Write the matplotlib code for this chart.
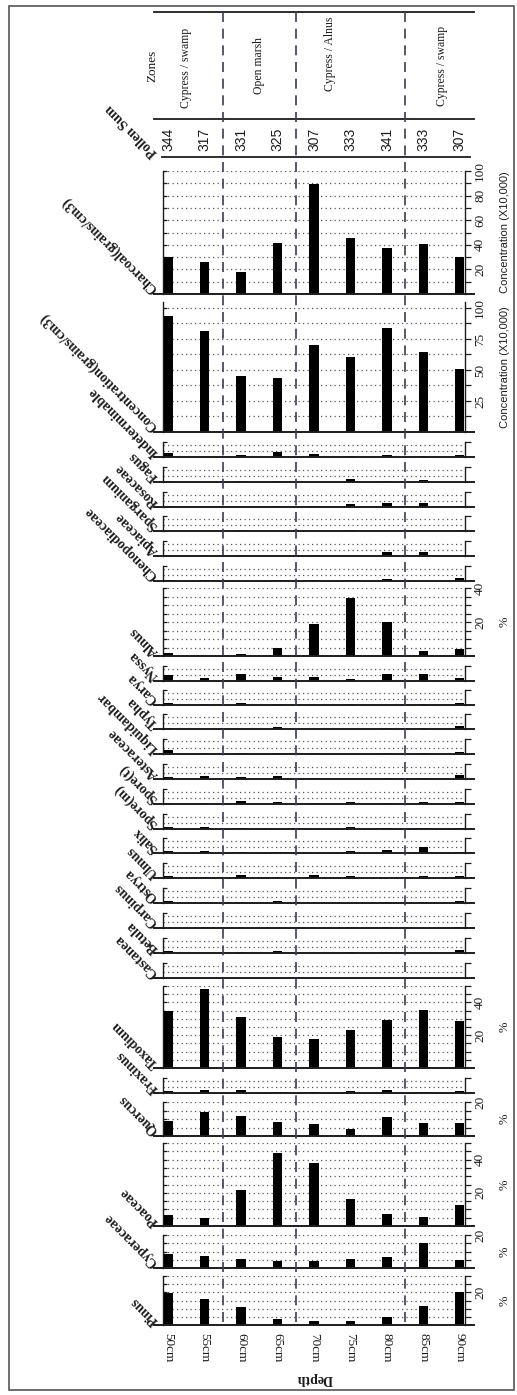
import matplotlib
matplotlib.use('Agg')
import matplotlib.pyplot as plt
from matplotlib.patches import Rectangle
from matplotlib.lines import Line2D
from matplotlib.transforms import blended_transform_factory

# ---------------- data ----------------
depths = [50, 55, 60, 65, 70, 75, 80, 85, 90]
depth_labels = ["50cm", "55cm", "60cm", "65cm", "70cm", "75cm", "80cm", "85cm", "90cm"]
pollen_sum = [344, 317, 331, 325, 307, 333, 341, 333, 307]
zones = ["Cypress / swamp", "Cypress / swamp", "Open marsh", "Open marsh",
         "Cypress / Alnus", "Cypress / Alnus", "Cypress / Alnus",
         "Cypress / swamp", "Cypress / swamp"]

charcoal = [30, 26, 18, 41.5, 89.5, 45.5, 37.5, 40.5, 30]
concentration = [93.5, 81.5, 45, 43.5, 70, 60.5, 84, 64.5, 51]
indeterminable = [3.2, 0, 1.9, 3.7, 2.7, 1.1, 1.9, 1.1, 1.9]
fagus = [1.0, 0, 0.8, 0.8, 0, 2.7, 0.8, 1.9, 0]
rosaceae = [0.9, 0, 0, 0.9, 0.9, 2.1, 2.9, 2.9, 0.9]
sparganium = [0, 0, 0.8, 0, 0, 0.8, 0, 0, 0.8]
apiaceae = [0.8, 0.8, 0.8, 0, 0.8, 0, 3.2, 3.2, 0]
chenopodiaceae = [0.8, 0.8, 0, 0.8, 0.8, 0.8, 1.9, 0, 2.7]
alnus = [1.6, 0, 1.0, 5.0, 19, 33.9, 19.8, 2.8, 4.2]
nyssa = [4.5, 2.1, 5.6, 2.9, 2.9, 1.9, 5.6, 5.6, 2.1]
carya = [1.6, 0.8, 1.6, 0.8, 0, 0.8, 0, 0.8, 1.6]
typha = [0.8, 0, 0, 1.6, 0, 0, 0.8, 0.8, 2.7]
liquidambar = [3.5, 0.8, 0.8, 0.8, 0.8, 0, 0.8, 0.8, 1.9]
asteraceae = [1.6, 2.4, 1.6, 2.4, 0.8, 0, 0.8, 0.8, 3.2]
spore_t = [0.8, 0.8, 2.4, 1.6, 0.8, 1.6, 0.8, 1.6, 1.6]
spore_m = [1.6, 1.6, 0.8, 0, 0, 1.6, 0.8, 0.8, 0.8]
salix = [1.6, 1.6, 0.8, 0.8, 0, 1.6, 2.4, 5.1, 0.8]
ulmus = [1.6, 0.8, 2.4, 0.8, 2.7, 1.6, 0, 1.6, 1.6]
ostrya = [1.6, 0.8, 0.8, 1.6, 0, 0, 0.8, 0.8, 1.6]
carpinus = [0, 0.8, 0, 0, 0, 0.8, 0.8, 0, 0.8]
betula = [1.6, 0, 0.8, 1.6, 0, 0.8, 0.8, 0, 2.7]
castanea = [0, 0, 0, 0, 0, 0, 0, 0, 0]
taxodium = [34.8, 48, 31, 19.2, 17.8, 22.9, 29.4, 35.4, 28.5]
fraxinus = [1.6, 2.4, 2.4, 0.8, 0.8, 1.6, 2.7, 0.8, 1.6]
quercus = [8.8, 13.9, 12, 8.2, 7.1, 3.9, 11.4, 7.6, 7.6]
poaceae = [6.4, 4.8, 21.4, 44.2, 38.2, 16.4, 7, 5.2, 12.6]
cyperaceae = [8.4, 7.1, 5.7, 4.1, 4.1, 5.7, 6.5, 14.9, 5.1]
pinus = [19.4, 15.9, 10.8, 3.9, 2.7, 2.7, 5.1, 11.6, 20.4]

# ---------------- layout / style ----------------
W, H = 517, 1395
fig = plt.figure(figsize=(W / 100, H / 100), dpi=100)
fig.patch.set_facecolor('white')


def fx(px):
    return px / W


def fy(py):
    return 1 - py / H


XL, XR = 163, 465
XLIM = (49.3, 90.7)
BAR_W = 1.25
INK = '#1c1c1c'
GRID = '#555555'
ZONE_C = '#3b3b58'
SERIF = ['Liberation Serif', 'DejaVu Serif']
SANS = ['Liberation Sans', 'DejaVu Sans']
NARROW = ['Liberation Sans Narrow', 'Liberation Sans', 'DejaVu Sans']


def steps(step, top):
    out, v = [], step
    while v <= top + 1e-9:
        out.append(v)
        v += step
    return out


big = lambda top, base, ymax, step, labs, unit: dict(top=top, base=base, ymax=ymax,
                                                     grid=steps(step, min(ymax, 100)),
                                                     ticks=steps(step, min(ymax, 100)),
                                                     labs=labs, unit=unit)
small = lambda base: dict(top=base - 15, base=base, ymax=12, grid=[5, 10], ticks=[12],
                          labs=[], unit=None)

panels = [
    ("Charcoal(grains/cm3)", charcoal, big(171, 294, 100, 10, [20, 40, 60, 80, 100], "Concentration (X10,000)")),
    ("Concentration(grains/cm3)", concentration, big(302, 432, 104.8, 12.5, [25, 50, 75, 100], "Concentration (X10,000)")),
    ("Indeterminable", indeterminable, small(457)),
    ("Fagus", fagus, small(482)),
    ("Rosaceae", rosaceae, small(507)),
    ("Sparganium", sparganium, small(531)),
    ("Apiaceae", apiaceae, small(556)),
    ("Chenopodiaceae", chenopodiaceae, small(581)),
    ("Alnus", alnus, big(588, 656, 40, 5, [20, 40], "%")),
    ("Nyssa", nyssa, small(681)),
    ("Carya", carya, small(705)),
    ("Typha", typha, small(729)),
    ("Liquidambar", liquidambar, small(754)),
    ("Asteraceae", asteraceae, small(779)),
    ("Spore(t)", spore_t, small(804)),
    ("Spore(m)", spore_m, small(829)),
    ("Salix", salix, small(853)),
    ("Ulmus", ulmus, small(878)),
    ("Ostrya", ostrya, small(903)),
    ("Carpinus", carpinus, small(928)),
    ("Betula", betula, small(953)),
    ("Castanea", castanea, small(978)),
    ("Taxodium", taxodium, big(986, 1068, 50, 5, [20, 40], "%")),
    ("Fraxinus", fraxinus, small(1093)),
    ("Quercus", quercus, big(1102, 1136, 20, 5, [20], "%")),
    ("Poaceae", poaceae, big(1143, 1226, 50, 5, [20, 40], "%")),
    ("Cyperaceae", cyperaceae, big(1235, 1268, 20, 5, [20], "%")),
    ("Pinus", pinus, big(1276, 1325, 30, 5, [20], "%")),
]

last_ax = None
for name, vals, p in panels:
    ax = fig.add_axes([fx(XL), fy(p['base']), fx(XR) - fx(XL), (p['base'] - p['top']) / H])
    ax.set_xlim(XLIM)
    ax.set_ylim(0, p['ymax'])
    ax.patch.set_alpha(0)
    ax.bar(depths, vals, width=BAR_W, color='black', zorder=3)
    for g in p['grid']:
        ax.axhline(g, color=GRID, lw=0.9, ls=(0, (1, 2.6)), zorder=1)
    ax.axhline(0, xmin=-0.03, xmax=1.03, color=INK, lw=1.4, clip_on=False, zorder=4)
    for s in ('top', 'bottom', 'right'):
        ax.spines[s].set_visible(False)
    ax.spines['left'].set_color(INK)
    ax.spines['left'].set_linewidth(1.0)
    ax.set_xticks([])
    ax.set_yticks(p['ticks'])
    ax.tick_params(axis='y', direction='in', length=3, width=0.9, color=INK,
                   labelleft=False, left=True, right=False)
    sec = ax.secondary_yaxis('right')
    sec.set_yticks(p['ticks'])
    sec.set_yticklabels([(f"{int(t)}" if t in p['labs'] else "") for t in p['ticks']])
    sec.tick_params(direction='out', length=4, width=0.9, color=INK, pad=2.5,
                    labelsize=9.5, labelcolor=INK, labelrotation=90)
    sec.spines['right'].set_color(INK)
    sec.spines['right'].set_linewidth(1.0)
    for lab in sec.get_yticklabels():
        lab.set_fontfamily(SERIF)
        lab.set_va('center')
    # taxon label
    fig.text(fx(156), fy(p['base'] - 3), name, rotation=135, rotation_mode='anchor',
             ha='left', va='center', fontsize=10, fontweight='bold', family=SERIF, color=INK)
    if p['unit']:
        mid = (p['top'] + p['base']) / 2
        if p['unit'] == '%':
            fig.text(fx(505), fy(mid), '%', rotation=90, ha='center', va='center',
                     fontsize=9, family=SERIF, color=INK)
        else:
            fig.text(fx(505), fy(mid), p['unit'], rotation=90, ha='center', va='center',
                     fontsize=8, family=NARROW, color=INK)
    last_ax = ax

# depth axis on the last (bottom) panel
last_ax.set_xticks(depths)
last_ax.set_xticklabels(depth_labels)
last_ax.tick_params(axis='x', length=0, pad=5.5, labelsize=9.5, labelcolor=INK,
                    labelrotation=270)
for lab in last_ax.get_xticklabels():
    lab.set_fontfamily(SERIF)
    lab.set_va('top')
fig.text(fx(315), fy(1378), 'Depth', rotation=180, ha='center', va='center',
         fontsize=10, fontweight='bold', family=SERIF, color=INK)

# header: zones and pollen sum
blend = blended_transform_factory(last_ax.transData, fig.transFigure)
for yline, x0, x1 in [(12, 154, 474), (119, 154, 474), (157, 162, 470)]:
    fig.add_artist(Line2D([fx(x0), fx(x1)], [fy(yline), fy(yline)], transform=fig.transFigure,
                          color=INK, lw=1.3))

bounds = [(depths[i] + depths[i + 1]) / 2 for i in range(len(depths) - 1) if zones[i] != zones[i + 1]]
for b in bounds:
    fig.add_artist(Line2D([b, b], [fy(12), fy(1327)], transform=blend, color=ZONE_C,
                          lw=1.2, ls=(0, (6, 4)), zorder=5))

zone_label_x = [52.5, 62.5, 72.2, 87.5]
zone_label_y = [68, 66, 54, 66]
zone_names = []
for z in zones:
    if not zone_names or zone_names[-1] != z:
        zone_names.append(z)
for zx, zy, zn in zip(zone_label_x, zone_label_y, zone_names):
    fig.text(zx, fy(zy), zn, transform=blend, rotation=90, ha='center', va='center',
             fontsize=8.5, family=SERIF, color=INK)
fig.text(fx(152), fy(66), 'Zones', rotation=90, ha='center', va='center',
         fontsize=9.5, family=SERIF, color=INK)

for d, ps in zip(depths, pollen_sum):
    fig.text(d, fy(139), str(ps), transform=blend, rotation=90, ha='center', va='center',
             fontsize=10, family=SANS, color=INK)
fig.text(fx(156), fy(154), 'Pollen Sum', rotation=135, rotation_mode='anchor',
         ha='left', va='center', fontsize=10, fontweight='bold', family=SERIF, color=INK)

# outer frame
fig.add_artist(Rectangle((fx(9), fy(1390)), fx(514) - fx(9), (1390 - 6) / H,
                         transform=fig.transFigure, fill=False, ec='#555555', lw=1.2))

fig.savefig('out.png', dpi=100)
